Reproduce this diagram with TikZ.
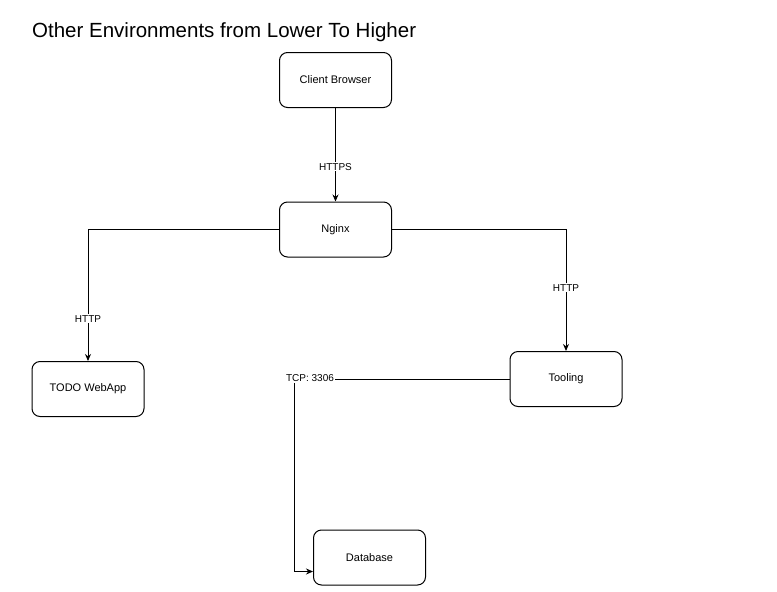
\documentclass[tikz,border=0pt]{standalone}
\usepackage{fontspec}
\setmainfont{Liberation Sans}
\usetikzlibrary{positioning}
\usetikzlibrary{calc}
\usetikzlibrary{arrows.meta}

\begin{document}
\begin{tikzpicture}[x=1pt, y=-1pt,
    box/.style={rectangle, draw, rounded corners=8pt, line width=1pt,
        minimum width=112pt, minimum height=55pt,
        font=\fontsize{11}{13}\selectfont},
    link/.style={draw, line width=1pt, -{Stealth[length=7pt,width=6pt]}},
    tag/.style={fill=white, inner sep=1pt, font=\fontsize{10}{12}\selectfont}]

% Other environments layout

\useasboundingbox (0,0) rectangle (777,592);

\node [anchor=base west, inner sep=0, font=\fontsize{20.5}{24}\selectfont]
    (title) at (32,37.5) {Other Environments from Lower To Higher};

\node [box] (browser) at (335.5,80) {Client Browser};
\node [box] (nginx) at (335.5,229.5) {Nginx};
\node [box] (todo) at (88,389) {TODO WebApp};
\node [box] (tooling) at (566,379) {Tooling};
\node [box] (db) at (369.5,557.5) {Database};

\draw [link] (browser) -- node [tag, pos=0.63] (https) {HTTPS} (nginx);
\draw [link] (nginx.west) -| node [tag, pos=0.84] (httpleft) {HTTP} (todo.north);
\draw [link] (nginx.east) -| node [tag, pos=0.74] (httpright) {HTTP} (tooling.north);

\coordinate (tcp) at (294,379);
\coordinate (db in) at ($(db.south west)+(0,-14)$);
\draw [link] (tooling.west) -- (tcp) |- (db in);
\node [tag] (tcplabel) at ($(tcp)+(16,-1)$) {TCP: 3306};

\end{tikzpicture}
\end{document}
